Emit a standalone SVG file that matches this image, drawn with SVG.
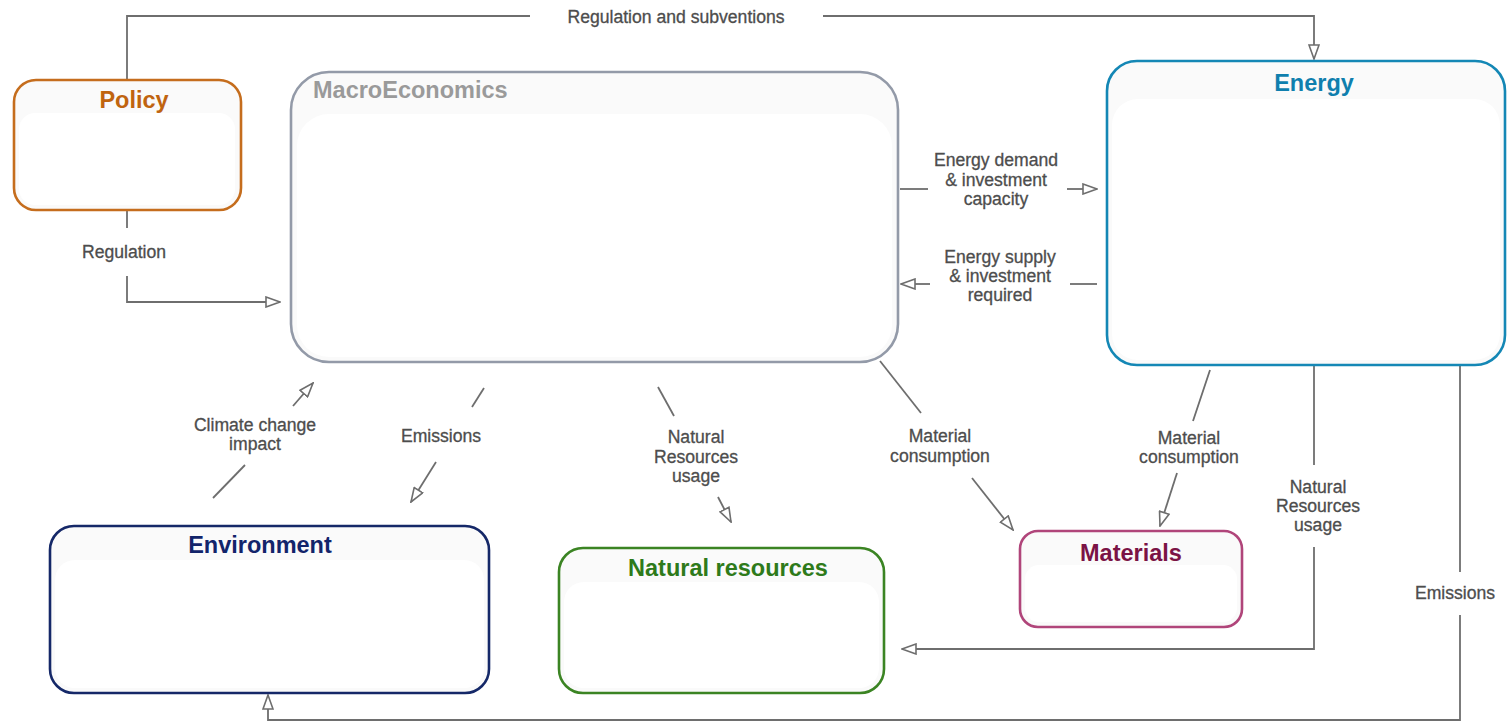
<svg xmlns="http://www.w3.org/2000/svg" width="1507" height="722" viewBox="0 0 1507 722">
  <style>
    .box { stroke-width: 2.6; fill: #fafafa; }
    .inner { fill: #ffffff; stroke: none; }
    .title { font-family: "Liberation Sans", Arial, sans-serif; font-weight: bold; font-size: 23.5px; text-anchor: middle; }
    .lbl { font-family: "Liberation Sans", Arial, sans-serif; font-size: 17.6px; fill: #4d4d4d; stroke: #4d4d4d; stroke-width: 0.3; text-anchor: middle; }
    .wire { fill: none; stroke: #6e6e6e; stroke-width: 1.8; }
  </style>
  <defs>
    <marker id="tri" viewBox="0 0 16 12" refX="15" refY="6" markerWidth="16" markerHeight="12" markerUnits="userSpaceOnUse" orient="auto">
      <path d="M1,1 L15,6 L1,11 Z" fill="#ffffff" stroke="#6e6e6e" stroke-width="1.6" stroke-linejoin="miter"/>
    </marker>
  </defs>

  <rect width="1507" height="722" fill="#ffffff"/>

  <!-- connectors -->
  <g id="connectors">
    <!-- Policy -> Energy -->
    <path class="wire" d="M127,80 V16 H530"/>
    <path class="wire" d="M823,16 H1314 V59" marker-end="url(#tri)"/>
    <text class="lbl" x="676" y="23">Regulation and subventions</text>

    <!-- Policy -> MacroEconomics -->
    <path class="wire" d="M127,211 V228"/>
    <path class="wire" d="M127,276 V302 H280" marker-end="url(#tri)"/>
    <text class="lbl" x="124" y="258">Regulation</text>

    <!-- MacroEconomics -> Energy -->
    <path class="wire" d="M900,189 H928"/>
    <path class="wire" d="M1067,189 H1097" marker-end="url(#tri)"/>
    <text class="lbl" x="996" y="166">Energy demand</text>
    <text class="lbl" x="996" y="186">&amp; investment</text>
    <text class="lbl" x="996" y="205">capacity</text>

    <!-- Energy -> MacroEconomics -->
    <path class="wire" d="M1097,284 H1070"/>
    <path class="wire" d="M930,284 H901" marker-end="url(#tri)"/>
    <text class="lbl" x="1000" y="263">Energy supply</text>
    <text class="lbl" x="1000" y="282">&amp; investment</text>
    <text class="lbl" x="1000" y="301">required</text>

    <!-- Environment -> MacroEconomics -->
    <path class="wire" d="M213,498 L245,465"/>
    <path class="wire" d="M293,406 L313,383" marker-end="url(#tri)"/>
    <text class="lbl" x="255" y="431">Climate change</text>
    <text class="lbl" x="255" y="450">impact</text>

    <!-- MacroEconomics -> Environment -->
    <path class="wire" d="M484,388 L472,407"/>
    <path class="wire" d="M436,462 L411,502" marker-end="url(#tri)"/>
    <text class="lbl" x="441" y="442">Emissions</text>

    <!-- MacroEconomics -> Natural resources -->
    <path class="wire" d="M658,387 L674,416"/>
    <path class="wire" d="M718,497 L731,522" marker-end="url(#tri)"/>
    <text class="lbl" x="696" y="443">Natural</text>
    <text class="lbl" x="696" y="463">Resources</text>
    <text class="lbl" x="696" y="482">usage</text>

    <!-- MacroEconomics -> Materials -->
    <path class="wire" d="M880,361 L921,413"/>
    <path class="wire" d="M972,478 L1013,530" marker-end="url(#tri)"/>
    <text class="lbl" x="940" y="442">Material</text>
    <text class="lbl" x="940" y="462">consumption</text>

    <!-- Energy -> Materials -->
    <path class="wire" d="M1210,370 L1193,421"/>
    <path class="wire" d="M1177,473 L1160,526" marker-end="url(#tri)"/>
    <text class="lbl" x="1189" y="444">Material</text>
    <text class="lbl" x="1189" y="463">consumption</text>

    <!-- Energy -> Natural resources -->
    <path class="wire" d="M1314,366 V465"/>
    <path class="wire" d="M1314,547 V649 H902" marker-end="url(#tri)"/>
    <text class="lbl" x="1318" y="493">Natural</text>
    <text class="lbl" x="1318" y="512">Resources</text>
    <text class="lbl" x="1318" y="531">usage</text>

    <!-- Energy -> Environment -->
    <path class="wire" d="M1460,366 V572"/>
    <path class="wire" d="M1460,615 V720 H268 V695" marker-end="url(#tri)"/>
    <text class="lbl" x="1455" y="599">Emissions</text>
  </g>

  <!-- nodes -->
  <g id="policy">
    <rect class="box" x="14" y="80" width="227" height="130" rx="22" stroke="#c56d1d"/>
    <rect class="inner" x="19" y="113" width="216" height="92" rx="16"/>
    <text class="title" x="134" y="108" fill="#c0640f">Policy</text>
  </g>

  <g id="macroeconomics">
    <rect class="box" x="291" y="72" width="607" height="290" rx="38" stroke="#939aa8"/>
    <rect class="inner" x="297" y="114" width="595" height="243" rx="32"/>
    <text class="title" x="313" y="98" fill="#9a9a9a" style="text-anchor:start">MacroEconomics</text>
  </g>

  <g id="energy">
    <rect class="box" x="1107" y="61" width="398" height="304" rx="30" stroke="#1487b5"/>
    <rect class="inner" x="1112" y="99" width="388" height="261" rx="26"/>
    <text class="title" x="1314" y="91" fill="#0f7fae">Energy</text>
  </g>

  <g id="environment">
    <rect class="box" x="50" y="526" width="439" height="167" rx="24" stroke="#152868"/>
    <rect class="inner" x="55" y="560" width="429" height="128" rx="20"/>
    <text class="title" x="260" y="553" fill="#12246a">Environment</text>
  </g>

  <g id="natural-resources">
    <rect class="box" x="559" y="548" width="325" height="145" rx="24" stroke="#3b8423"/>
    <rect class="inner" x="564" y="582" width="315" height="106" rx="20"/>
    <text class="title" x="728" y="576" fill="#2e7a1a">Natural resources</text>
  </g>

  <g id="materials">
    <rect class="box" x="1020" y="531" width="222" height="96" rx="18" stroke="#b0457a"/>
    <rect class="inner" x="1025" y="565" width="212" height="57" rx="14"/>
    <text class="title" x="1131" y="561" fill="#7b1345">Materials</text>
  </g>
</svg>
